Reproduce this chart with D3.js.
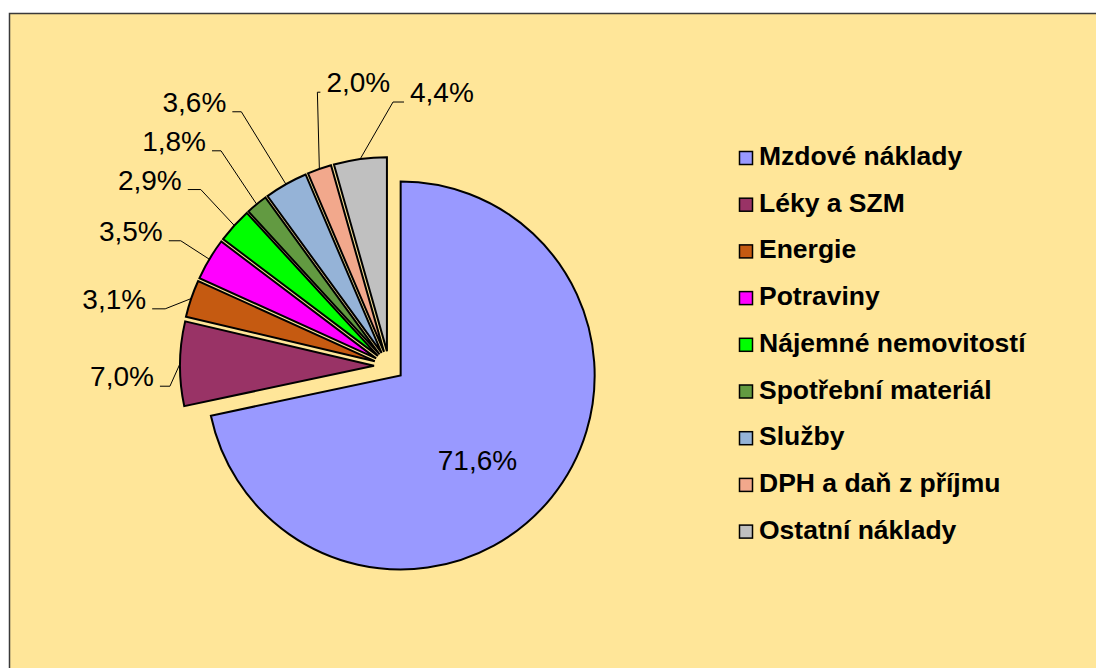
<!DOCTYPE html>
<html>
<head>
<meta charset="utf-8">
<script src="https://cdn.jsdelivr.net/npm/d3@7"></script>
<style>
  body { margin: 0; background: #ffffff; }
  text { font-family: "Liberation Sans", Arial, sans-serif; }
</style>
</head>
<body>
<div id="chart"></div>
<script>
// chart data
var categories = ["Mzdové náklady", "Léky a SZM", "Energie", "Potraviny", "Nájemné nemovitostí",
  "Spotřební materiál", "Služby", "DPH a daň z příjmu", "Ostatní náklady"];
var shares = [71.6, 7.0, 3.1, 3.5, 2.9, 1.8, 3.6, 2.0, 4.4];
var shareLabels = ["71,6%", "7,0%", "3,1%", "3,5%", "2,9%", "1,8%", "3,6%", "2,0%", "4,4%"];

var colors = ["#9999FF", "#993366", "#C55A11", "#FF00FF", "#00FF00",
  "#629A41", "#95B3D7", "#F2A88C", "#C0C0C0"];

// label layout: angle nudge (deg) from slice middle, distance from pie centre, side of leader
var labelNudge = [7.7, -5.9, -4.5, 0.3, 0.9, 1.3, -0.6, 4.8, 8.8];
var labelDist = [129, 220, 231, 243, 258, 273, 294, 283, 264];
var labelSide = ["in", "left", "left", "left", "left", "left", "left", "right", "right"];
var leaderTail = [0, 10, 13, 12, 13, 9, 9, 3, 11];

var svgWidth = 1096;
var svgHeight = 668;

var cx = 389, cy = 366;
var radius = 194;
var explode = 15;

var svg = d3.select("#chart")
  .append("svg")
  .attr("width", svgWidth)
  .attr("height", svgHeight);

// chart area background
svg.append("rect")
  .attr("x", 9.5)
  .attr("y", 13.5)
  .attr("width", 1100)
  .attr("height", 700)
  .attr("fill", "#FFE699")
  .attr("stroke", "#3a3a3a")
  .attr("stroke-width", 1.5);

var pie = d3.pie()
  .sort(null)
  .value(d => d);

var arcs = pie(shares);

var arc = d3.arc()
  .innerRadius(0)
  .outerRadius(radius);

function mid(d) { return (d.startAngle + d.endAngle) / 2; }
function polar(a, r) { return [cx + r * Math.sin(a), cy - r * Math.cos(a)]; }

var pieGroup = svg.append("g")
  .attr("transform", `translate(${cx}, ${cy})`);

// slices, every one pulled out along its own middle
pieGroup.selectAll("path")
  .data(arcs)
  .enter()
  .append("path")
  .attr("d", arc)
  .attr("transform", d => `translate(${explode * Math.sin(mid(d))}, ${-explode * Math.cos(mid(d))})`)
  .attr("fill", (d, i) => colors[i])
  .attr("stroke", "#000")
  .attr("stroke-width", 2)
  .attr("stroke-linejoin", "miter");

// labels and leader lines
var labelGroup = svg.append("g");

arcs.forEach(function(d, i) {
  var a = mid(d) + labelNudge[i] * Math.PI / 180;
  var p = polar(a, labelDist[i]);

  if (labelSide[i] === "in") {
    labelGroup.append("text")
      .attr("x", p[0])
      .attr("y", p[1])
      .attr("dy", "0.35em")
      .attr("text-anchor", "middle")
      .attr("font-size", "28px")
      .text(shareLabels[i]);
    return;
  }

  var start = polar(mid(d), radius + explode);
  var sign = labelSide[i] === "left" ? -1 : 1;
  var end = [p[0] + sign * leaderTail[i], p[1]];

  labelGroup.append("path")
    .attr("d", d3.line()([start, p, end]))
    .attr("fill", "none")
    .attr("stroke", "#000")
    .attr("stroke-width", 1);

  labelGroup.append("text")
    .attr("x", end[0] + sign * 6)
    .attr("y", p[1])
    .attr("text-anchor", sign < 0 ? "end" : "start")
    .attr("font-size", "28px")
    .text(shareLabels[i]);
});

// legend
var legend = svg.append("g")
  .attr("transform", "translate(739, 165)");

var rows = legend.selectAll("g")
  .data(categories)
  .enter()
  .append("g")
  .attr("transform", (d, i) => `translate(0, ${i * 46.7})`);

rows.append("rect")
  .attr("x", 0.5)
  .attr("y", -13.5)
  .attr("width", 13)
  .attr("height", 13)
  .attr("fill", (d, i) => colors[i])
  .attr("stroke", "#000")
  .attr("stroke-width", 1.5);

rows.append("text")
  .attr("x", 20)
  .attr("y", 0)
  .attr("font-size", "26.5px")
  .attr("font-weight", "bold")
  .text(d => d);
</script>
</body>
</html>
